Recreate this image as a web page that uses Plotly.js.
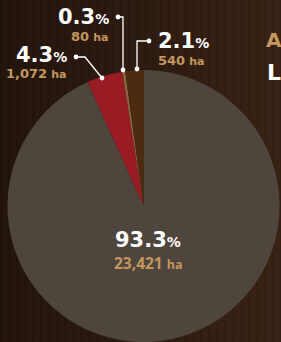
<!DOCTYPE html>
<html><head><meta charset="utf-8">
<script src="https://cdn.plot.ly/plotly-3.0.1.min.js"></script>
<style>
html,body{margin:0;padding:0;width:281px;height:342px;overflow:hidden;
background:#2d1b11;
background-image:
 repeating-linear-gradient(90deg, rgba(0,0,0,0.10) 0px, rgba(0,0,0,0) 3px, rgba(80,45,20,0.08) 5px, rgba(0,0,0,0) 8px),
 linear-gradient(90deg,#22140d 0%,#2c1a11 45%,#382214 100%);}
#chart{width:281px;height:342px;}
</style></head>
<body><div id="chart"></div>
<script>
// ---- data ----
const categories = ['93.3%', '4.3%', '0.3%', '2.1%'];
const hectares = [23421, 1072, 80, 540];
const percentText = ['93.3', '4.3', '0.3', '2.1'];
const haText = ['23,421', '1,072', '80', '540'];
const sliceColors = ['#4e453d', '#991c25', '#8a6a43', '#4c2b10'];

// ---- layout helpers ----
const W = 281, H = 342;
const px = x => x / W;
const py = y => 1 - y / H;
const TAN = '#c4975f';
const FONT = 'DejaVu Sans, sans-serif';
const FONT2 = 'Open Sans, sans-serif';

// label placement per slice: [pctX, pctY, haX, haY, xanchor]
const place = [
  [148, 239.5, 148, 263, 'center'],
  [69, 55, 69, 74, 'right'],
  [111, 17, 111, 36, 'right'],
  [156, 41, 156, 61, 'left']
];

const annotations = [];
categories.forEach((c, i) => {
  const p = place[i];
  annotations.push({
    xref: 'paper', yref: 'paper', x: px(p[0]), y: py(p[1]),
    xanchor: p[4], yanchor: 'middle', showarrow: false,
    text: '<b>' + percentText[i] + '</b><span style="font-size:14px"><b>%</b></span>',
    font: {family: FONT, size: 21, color: '#ffffff'}
  });
  const big = i === 0;
  annotations.push({
    xref: 'paper', yref: 'paper', x: px(p[2]), y: py(p[3]),
    xanchor: p[4], yanchor: 'middle', showarrow: false,
    text: '<b>' + haText[i] + '</b> <span style="font-size:' + (big ? 12.5 : 11) + 'px"><b>ha</b></span>',
    font: {family: big ? FONT2 : FONT, size: big ? 15.5 : 13, color: TAN}
  });
});
// cut-off heading on the right
annotations.push({xref:'paper',yref:'paper',x:px(264),y:py(40),xanchor:'left',yanchor:'middle',showarrow:false,
  text:'<b>A</b>',font:{family:FONT,size:20,color:TAN}});
annotations.push({xref:'paper',yref:'paper',x:px(265),y:py(73),xanchor:'left',yanchor:'middle',showarrow:false,
  text:'<b>L</b>',font:{family:FONT,size:22,color:'#ffffff'}});

// leader lines
const leaders = [
  [[76,57],[85,57],[102,78]],
  [[118,17],[123,17],[123,70]],
  [[149,41],[137,41],[137,69]]
];
const shapes = [];
leaders.forEach(pts => {
  const d = pts.map((p, k) => (k ? 'L' : 'M') + px(p[0]) + ',' + py(p[1])).join(' ');
  shapes.push({type:'path', xref:'paper', yref:'paper', path:d, line:{color:'#ffffff', width:1.3}});
  [pts[0], pts[pts.length-1]].forEach(p => {
    const r = 2.4;
    shapes.push({type:'circle', xref:'paper', yref:'paper',
      x0:px(p[0]-r), x1:px(p[0]+r), y0:py(p[1]+r), y1:py(p[1]-r),
      fillcolor:'#ffffff', line:{width:0}});
  });
});

const trace = {
  type: 'pie',
  labels: categories,
  values: hectares,
  sort: false,
  direction: 'clockwise',
  rotation: 0,
  marker: {colors: sliceColors, line: {width: 0}},
  textinfo: 'none',
  hoverinfo: 'skip',
  showlegend: false,
  domain: {x: [7/W, 280/W], y: [0, (H-70)/H]}
};

const layout = {
  width: W, height: H,
  margin: {l:0, r:0, t:0, b:0},
  paper_bgcolor: 'rgba(0,0,0,0)',
  plot_bgcolor: 'rgba(0,0,0,0)',
  showlegend: false,
  annotations: annotations,
  shapes: shapes
};

Plotly.newPlot('chart', [trace], layout, {displayModeBar: false, staticPlot: true});
</script>
</body></html>
